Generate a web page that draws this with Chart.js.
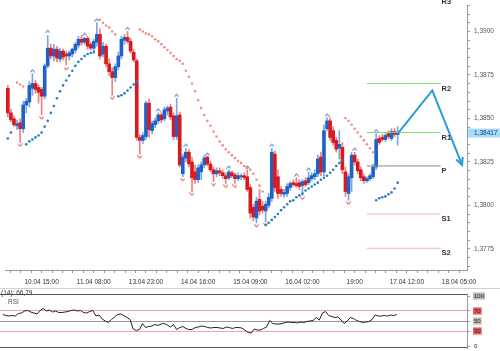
<!DOCTYPE html>
<html><head><meta charset="utf-8">
<script src="https://cdn.jsdelivr.net/npm/chart.js@4/dist/chart.umd.min.js"></script>
<style>
html,body{margin:0;padding:0;background:#fff;width:500px;height:351px;overflow:hidden;}
#main{position:absolute;left:0;top:0;}
#rsi{position:absolute;left:0;top:288px;}
</style></head><body>
<canvas id="main" width="500" height="290" style="width:500px;height:290px"></canvas>
<canvas id="rsi" width="500" height="63" style="width:500px;height:63px"></canvas>
<script>
// ---------- DATA (H1 bars, index 0..127) ----------
const opens = [1.38673,1.38532,1.38498,1.38458,1.38475,1.38441,1.38577,1.38594,1.38673,1.38701,
1.38678,1.38667,1.38628,1.38802,1.38904,1.38859,1.38898,1.38842,1.38887,1.38870,
1.38859,1.38870,1.38893,1.38921,1.38955,1.38938,1.38960,1.38926,1.38904,1.38938,
1.38983,1.38870,1.38915,1.38814,1.38769,1.38735,1.38797,1.38859,1.38949,1.38966,
1.38943,1.38881,1.38831,1.38391,1.38374,1.38396,1.38588,1.38430,1.38464,1.38486,
1.38520,1.38498,1.38543,1.38565,1.38515,1.38396,1.38520,1.38182,1.38272,1.38306,
1.38250,1.38193,1.38148,1.38193,1.38233,1.38278,1.38238,1.38205,1.38182,1.38199,
1.38188,1.38171,1.38159,1.38188,1.38176,1.38154,1.38165,1.38171,1.38165,1.38103,
1.37990,1.37928,1.38035,1.37996,1.37968,1.38001,1.38041,1.38295,1.38165,1.38092,
1.38064,1.38069,1.38103,1.38131,1.38126,1.38131,1.38114,1.38142,1.38131,1.38154,
1.38165,1.38182,1.38278,1.38193,1.38441,1.38486,1.38430,1.38374,1.38329,1.38334,
1.38193,1.38069,1.38159,1.38289,1.38250,1.38205,1.38165,1.38142,1.38154,1.38165,
1.38221,1.38385,1.38391,1.38379,1.38413,1.38385,1.38424,1.38408];
const highs = [1.38690,1.38554,1.38515,1.38492,1.38498,1.38599,1.38616,1.38712,1.38757,1.38718,
1.38695,1.38678,1.38814,1.38977,1.38926,1.38926,1.38915,1.38904,1.38898,1.38887,
1.38887,1.38904,1.38938,1.38972,1.38977,1.38966,1.38972,1.38938,1.38955,1.39050,
1.39017,1.38938,1.38926,1.38842,1.38791,1.38814,1.38881,1.38972,1.38983,1.39000,
1.38960,1.38898,1.38842,1.38408,1.38419,1.38599,1.38611,1.38486,1.38503,1.38532,
1.38532,1.38565,1.38571,1.38582,1.38532,1.38616,1.38537,1.38295,1.38329,1.38323,
1.38278,1.38233,1.38233,1.38250,1.38289,1.38283,1.38255,1.38221,1.38216,1.38216,
1.38205,1.38188,1.38205,1.38199,1.38188,1.38188,1.38182,1.38188,1.38205,1.38120,
1.38007,1.38047,1.38092,1.38024,1.38024,1.38069,1.38329,1.38312,1.38205,1.38109,
1.38092,1.38126,1.38137,1.38148,1.38159,1.38148,1.38148,1.38159,1.38193,1.38188,
1.38205,1.38289,1.38306,1.38464,1.38503,1.38503,1.38453,1.38391,1.38430,1.38362,
1.38221,1.38182,1.38306,1.38306,1.38267,1.38221,1.38182,1.38165,1.38182,1.38238,
1.38413,1.38402,1.38408,1.38413,1.38430,1.38441,1.38441,1.38453];
const lows = [1.38509,1.38481,1.38453,1.38436,1.38362,1.38419,1.38532,1.38565,1.38633,1.38644,
1.38588,1.38520,1.38611,1.38791,1.38842,1.38831,1.38825,1.38825,1.38836,1.38808,
1.38836,1.38853,1.38876,1.38904,1.38921,1.38926,1.38898,1.38893,1.38887,1.38915,
1.38842,1.38853,1.38797,1.38746,1.38633,1.38712,1.38780,1.38842,1.38926,1.38932,
1.38876,1.38825,1.38374,1.38295,1.38357,1.38379,1.38391,1.38413,1.38447,1.38470,
1.38475,1.38486,1.38520,1.38492,1.38379,1.38379,1.38221,1.38165,1.38250,1.38221,
1.38080,1.38126,1.38131,1.38148,1.38216,1.38227,1.38193,1.38137,1.38165,1.38171,
1.38154,1.38126,1.38148,1.38159,1.38126,1.38142,1.38148,1.38148,1.38080,1.37928,
1.37911,1.37900,1.37945,1.37956,1.37906,1.37985,1.38024,1.38080,1.38041,1.38052,
1.38047,1.38052,1.38086,1.38109,1.38103,1.38092,1.38058,1.38109,1.38120,1.38142,
1.38148,1.38165,1.38171,1.38171,1.38430,1.38374,1.38346,1.38306,1.38267,1.38182,
1.38052,1.38030,1.38080,1.38233,1.38182,1.38142,1.38126,1.38131,1.38142,1.38154,
1.38205,1.38351,1.38368,1.38368,1.38385,1.38374,1.38396,1.38346];
const closes = [1.38532,1.38492,1.38464,1.38470,1.38441,1.38577,1.38599,1.38690,1.38701,1.38667,
1.38650,1.38628,1.38802,1.38904,1.38859,1.38898,1.38847,1.38887,1.38853,1.38859,
1.38876,1.38898,1.38926,1.38955,1.38938,1.38960,1.38915,1.38904,1.38943,1.38983,
1.38859,1.38915,1.38814,1.38769,1.38735,1.38797,1.38859,1.38955,1.38966,1.38943,
1.38887,1.38836,1.38391,1.38374,1.38402,1.38588,1.38436,1.38470,1.38486,1.38520,
1.38492,1.38549,1.38560,1.38509,1.38396,1.38515,1.38233,1.38278,1.38306,1.38238,
1.38159,1.38148,1.38216,1.38233,1.38272,1.38238,1.38205,1.38182,1.38199,1.38188,
1.38171,1.38154,1.38193,1.38171,1.38154,1.38171,1.38171,1.38159,1.38092,1.37956,
1.37934,1.38024,1.37968,1.37973,1.38007,1.38047,1.38306,1.38103,1.38069,1.38069,
1.38075,1.38109,1.38126,1.38120,1.38114,1.38109,1.38137,1.38120,1.38159,1.38171,
1.38182,1.38267,1.38193,1.38430,1.38486,1.38391,1.38362,1.38323,1.38351,1.38205,
1.38080,1.38165,1.38289,1.38250,1.38199,1.38159,1.38142,1.38154,1.38171,1.38221,
1.38379,1.38362,1.38379,1.38402,1.38396,1.38424,1.38408,1.38417];

// Parabolic SAR (value per bar) and its side: u = below price (blue), d = above price (red)
const sar = [1.38385,1.38419,null,1.38706,1.38695,1.38684,1.38351,1.38368,1.38379,1.38391,
1.38402,1.38419,1.38453,1.38486,1.38532,1.38571,1.38616,1.38656,1.38690,1.38718,
1.38746,1.38774,1.38802,1.38825,1.38842,1.38859,1.38870,1.38876,1.38881,null,
1.39067,1.39050,1.39034,1.39022,1.39000,1.38983,1.38628,1.38633,1.38644,1.38661,
1.38678,1.38695,1.38712,1.39011,1.39000,1.38988,1.38983,1.38972,1.38955,1.38943,
1.38926,1.38909,1.38893,1.38876,1.38859,1.38842,1.38831,1.38814,1.38774,1.38740,
1.38701,1.38656,1.38605,1.38560,1.38520,1.38486,1.38458,1.38424,1.38396,1.38368,
1.38346,1.38323,1.38306,1.38289,1.38272,1.38255,1.38244,1.38227,1.38216,1.38205,
1.38182,1.38148,1.38114,1.38080,1.37889,1.37900,1.37917,1.37934,1.37951,1.37973,
1.37990,1.38007,1.38024,1.38030,1.38047,1.38058,1.38069,1.38086,1.38097,1.38109,
1.38120,1.38131,1.38148,1.38159,1.38171,1.38188,1.38205,1.38227,1.38244,1.38261,
1.38503,1.38486,1.38464,1.38441,1.38419,1.38396,1.38374,1.38351,1.38329,1.38306,
1.38030,1.38041,1.38047,1.38052,1.38064,1.38075,1.38097,1.38131];
const sarSide = ('uu.ddd uuuuu uuuuu uuuuu uuuuu uuu . dddddd uuuuuuu ' +
  'ddddd ddddd ddddd ddddd ddddd ddddd ddddd ddddd d ' +
  'uuuuu uuuuu uuuuu uuuuu uuuuu u dddddddddd uuuuuuuu').replace(/ /g, '');

// Fractals
const fracUpIdx = [8,13,25,29,39,49,55,58,65,72,78,86,94,98,104,113,120];
const fracUpPrice = [1.38774,1.39000,1.38983,1.39067,1.39017,1.38549,1.38633,1.38346,1.38295,1.38221,1.38221,1.38346,1.38176,1.38210,1.38520,1.38323,1.38430];
const fracDnIdx = [4,11,19,34,43,57,60,67,71,74,81,84,96,111];
const fracDnPrice = [1.38346,1.38503,1.38785,1.38616,1.38278,1.38148,1.38064,1.38120,1.38109,1.38109,1.37883,1.37889,1.38041,1.38013];

// Pivot levels
const pivotNames = ['R3','R2','R1','P','S1','S2'];
const pivotValues = [1.39200,1.38701,1.38419,1.38227,1.37951,1.37754];
const pivotColors = ['#7fd86e','#7fd86e','#7fd86e','#8a8a8a','#f4b4b4','#f4b4b4'];
const pivotStart = 117, pivotEnd = 141;

// Forecast arrow (bar index, price)
const arrowX = [127.3, 138.3, 148];
const arrowY = [1.38419, 1.38661, 1.38233];

// RSI(14)
const rsi = [63,61,60,61,60,65,66,70,71,68,
66,64,71,75,70,72,68,70,67,67,
68,69,71,72,70,71,67,66,69,71,
60,62,54,50,47,53,58,63,64,61,
57,53,34,31,33,45,37,39,40,43,
41,44,45,42,38,43,33,37,39,35,
33,33,37,38,40,39,37,36,37,37,
36,35,38,37,35,37,37,36,32,27,
26,34,32,32,35,38,51,45,44,44,
45,47,48,47,47,46,48,47,49,50,
51,57,52,66,69,61,59,57,58,52,
45,50,57,55,51,49,47,48,49,53,
62,60,60,61,60,62,61,63];
const rsiLevels = [0,30,50,70,100];
const rsiTitle = '(14): 66,79';

// Axis labels
const priceTicks = [1.3775,1.3800,1.3825,1.3850,1.3875,1.3900];
const timeLabels = ['10.04 15:00','11.04 08:00','13.04 23:00','14.04 16:00','15.04 09:00','16.04 02:00','19:00','17.04 12:00','18.04 05:00'];
const timeTickIdx = [11,28,45,62,79,96,113,130,147];
const lastPriceLabel = '1,38417';

// ---------- STYLE ----------
const X_MIN = -0.925, X_MAX = 149.6;
const Y_MIN = 1.37629, Y_MAX = 1.39152;
const FONT = '"Liberation Sans", Arial, sans-serif';
const upBody = '#1d63c6', dnBody = '#d8191f', upWick = '#7aa6e2', dnWick = '#ef8080';
const idx = opens.map((_, i) => i);
const isUp = i => closes[i] >= opens[i];

function chevron(up, color) {
  const c = document.createElement('canvas');
  c.width = 5; c.height = 4;
  const g = c.getContext('2d');
  g.strokeStyle = color; g.lineWidth = 1;
  g.beginPath();
  if (up) { g.moveTo(0.5, 3.5); g.lineTo(2.5, 0.8); g.lineTo(4.5, 3.5); }
  else { g.moveTo(0.5, 0.5); g.lineTo(2.5, 3.2); g.lineTo(4.5, 0.5); }
  g.stroke();
  return c;
}

const overlay = {
  id: 'overlay',
  afterDraw(chart) {
    const { ctx, scales: { x, y } } = chart;
    ctx.save();
    ctx.font = 'bold 7.5px ' + FONT;
    ctx.fillStyle = '#333';
    ctx.textBaseline = 'middle';
    ctx.textAlign = 'left';
    const lx = x.getPixelForValue(pivotEnd) + 1;
    pivotNames.forEach((n, k) => {
      ctx.fillText(n, lx, y.getPixelForValue(pivotValues[k]) + 5);
    });
    const x1 = x.getPixelForValue(arrowX[1]), y1 = y.getPixelForValue(arrowY[1]);
    const x2 = x.getPixelForValue(arrowX[2]), y2 = y.getPixelForValue(arrowY[2]);
    const a = Math.atan2(y2 - y1, x2 - x1);
    ctx.strokeStyle = '#2a9bd8'; ctx.lineWidth = 2;
    ctx.beginPath();
    ctx.moveTo(x2 - 8 * Math.cos(a - 0.45), y2 - 8 * Math.sin(a - 0.45));
    ctx.lineTo(x2, y2);
    ctx.lineTo(x2 - 8 * Math.cos(a + 0.45), y2 - 8 * Math.sin(a + 0.45));
    ctx.stroke();
    const py = y.getPixelForValue(closes[closes.length - 1]);
    const ax = chart.chartArea.right + 1;
    ctx.fillStyle = '#a9ddf7';
    ctx.fillRect(ax, Math.round(py) - 4.5, 500 - ax, 9);
    ctx.fillStyle = '#12407a';
    ctx.font = '6.5px ' + FONT;
    ctx.fillText(lastPriceLabel, ax + 6, py);
    ctx.restore();
  }
};

new Chart(document.getElementById('main'), {
  type: 'bar',
  data: {
    datasets: [
      ...pivotNames.map((n, k) => ({
        type: 'line', label: n, order: 1,
        data: [{ x: pivotStart, y: pivotValues[k] }, { x: pivotEnd, y: pivotValues[k] }],
        borderColor: pivotColors[k], borderWidth: 1, pointRadius: 0
      })),
      {
        type: 'line', label: 'forecast', order: 0,
        data: arrowX.map((v, k) => ({ x: v, y: arrowY[k] })),
        borderColor: '#2a9bd8', borderWidth: 2, pointRadius: 0, tension: 0
      },
      {
        type: 'line', label: 'SAR up', order: 2, showLine: false,
        data: idx.filter(i => sarSide[i] === 'u').map(i => ({ x: i, y: sar[i] })),
        pointRadius: 1.3, pointBorderWidth: 0, pointBackgroundColor: '#2a7bc6'
      },
      {
        type: 'line', label: 'SAR down', order: 2, showLine: false,
        data: idx.filter(i => sarSide[i] === 'd').map(i => ({ x: i, y: sar[i] })),
        pointRadius: 1.3, pointBorderWidth: 0, pointBackgroundColor: '#f38c8c'
      },
      {
        type: 'line', label: 'fractal up', order: 2, showLine: false,
        data: fracUpIdx.map((v, k) => ({ x: v, y: fracUpPrice[k] })),
        pointRadius: 2, pointStyle: chevron(true, '#3a5fb5')
      },
      {
        type: 'line', label: 'fractal down', order: 2, showLine: false,
        data: fracDnIdx.map((v, k) => ({ x: v, y: fracDnPrice[k] })),
        pointRadius: 2, pointStyle: chevron(false, '#d83030')
      },
      {
        label: 'bodies', order: 3, grouped: false, barThickness: 3, minBarLength: 1,
        data: idx.map(i => ({ x: i, y: [opens[i], closes[i]] })),
        backgroundColor: idx.map(i => isUp(i) ? upBody : dnBody), borderWidth: 0
      },
      {
        label: 'wicks', order: 4, grouped: false, barThickness: 1,
        data: idx.map(i => ({ x: i, y: [lows[i], highs[i]] })),
        backgroundColor: idx.map(i => isUp(i) ? upWick : dnWick), borderWidth: 0
      }
    ]
  },
  options: {
    responsive: false, animation: false, devicePixelRatio: 1,
    layout: { padding: 0 },
    plugins: { legend: { display: false }, tooltip: { enabled: false } },
    scales: {
      x: {
        type: 'linear', min: X_MIN, max: X_MAX, offset: false,
        grid: { drawOnChartArea: false, offset: false, tickLength: 3, color: '#999' },
        border: { display: true, color: '#999' },
        afterBuildTicks: s => {
          const t = [];
          for (let v = timeTickIdx[0] - 17; v <= X_MAX; v += 3.4) if (v >= X_MIN) t.push({ value: v });
          s.ticks = t;
        },
        ticks: {
          autoSkip: false, maxRotation: 0, padding: 5, color: '#333',
          font: { family: FONT, size: 6.5 },
          callback: v => { const k = timeTickIdx.findIndex(t => Math.abs(t - v) < 0.05); return k >= 0 ? timeLabels[k] : ''; }
        },
        afterFit: s => { s.height = 20; s.paddingLeft = 0; s.paddingRight = 0; }
      },
      y: {
        type: 'linear', position: 'right', min: Y_MIN, max: Y_MAX,
        grid: { drawOnChartArea: false, tickLength: 3, color: '#999' },
        border: { display: true, color: '#999' },
        afterBuildTicks: s => {
          const t = [];
          for (let v = 1.3765; v <= Y_MAX; v += 0.0005) if (v >= Y_MIN) t.push({ value: v });
          s.ticks = t;
        },
        ticks: {
          autoSkip: false, padding: 4, color: '#555', font: { family: FONT, size: 6.5 },
          callback: v => { const k = priceTicks.findIndex(t => Math.abs(t - v) < 0.00001); return k >= 0 ? priceTicks[k].toFixed(4).replace('.', ',') : ''; }
        },
        afterFit: s => { s.width = 33; s.paddingTop = 0; s.paddingBottom = 0; }
      }
    }
  },
  plugins: [overlay]
});

const rsiDecor = {
  id: 'rsiDecor',
  afterDraw(chart) {
    const { ctx, chartArea: a } = chart;
    ctx.save();
    ctx.strokeStyle = '#d0d0d0'; ctx.lineWidth = 1;
    ctx.beginPath(); ctx.moveTo(0, 0.5); ctx.lineTo(500, 0.5); ctx.stroke();
    ctx.strokeStyle = '#555';
    ctx.beginPath(); ctx.moveTo(0, Math.round(a.top) + 0.5); ctx.lineTo(a.right, Math.round(a.top) + 0.5); ctx.stroke();
    ctx.beginPath(); ctx.moveTo(0, Math.round(a.bottom) - 0.5); ctx.lineTo(a.right, Math.round(a.bottom) - 0.5); ctx.stroke();
    ctx.fillStyle = '#333'; ctx.font = '6.5px ' + FONT; ctx.textBaseline = 'middle';
    ctx.fillText(rsiTitle, 1, a.top - 0.5);
    ctx.fillStyle = '#555';
    ctx.fillText('RSI', 8, a.top + 8);
    ctx.restore();
  }
};

new Chart(document.getElementById('rsi'), {
  type: 'line',
  data: {
    datasets: [{
      label: 'RSI', data: idx.map(i => ({ x: i, y: rsi[i] })),
      borderColor: '#222', borderWidth: 1, pointRadius: 0, tension: 0
    }]
  },
  options: {
    responsive: false, animation: false, devicePixelRatio: 1,
    layout: { padding: { top: 6, bottom: 3, left: 0, right: 0 } },
    plugins: { legend: { display: false }, tooltip: { enabled: false } },
    scales: {
      x: { type: 'linear', min: X_MIN, max: X_MAX, display: false },
      y: {
        position: 'right', min: -4, max: 104,
        afterBuildTicks: s => { s.ticks = rsiLevels.map(v => ({ value: v })); },
        grid: {
          drawOnChartArea: true, tickLength: 3,
          color: c => c.tick && (c.tick.value === 70 || c.tick.value === 30) ? '#f2a6a6' : (c.tick && c.tick.value === 50 ? '#9a9a9a' : 'rgba(0,0,0,0)'),
          tickColor: '#999'
        },
        border: { display: true, color: '#999' },
        ticks: {
          autoSkip: false, padding: 4, color: '#222', font: { family: FONT, size: 6 },
          showLabelBackdrop: true, backdropPadding: { x: 1, y: 0 },
          backdropColor: c => c.tick.value === 70 || c.tick.value === 30 ? '#ea5a5a' : (c.tick.value === 0 ? 'rgba(0,0,0,0)' : '#bdbdbd'),
          callback: v => String(v)
        },
        afterFit: s => { s.width = 33; s.paddingTop = 0; s.paddingBottom = 0; }
      }
    }
  },
  plugins: [rsiDecor]
});
</script>
</body></html>
